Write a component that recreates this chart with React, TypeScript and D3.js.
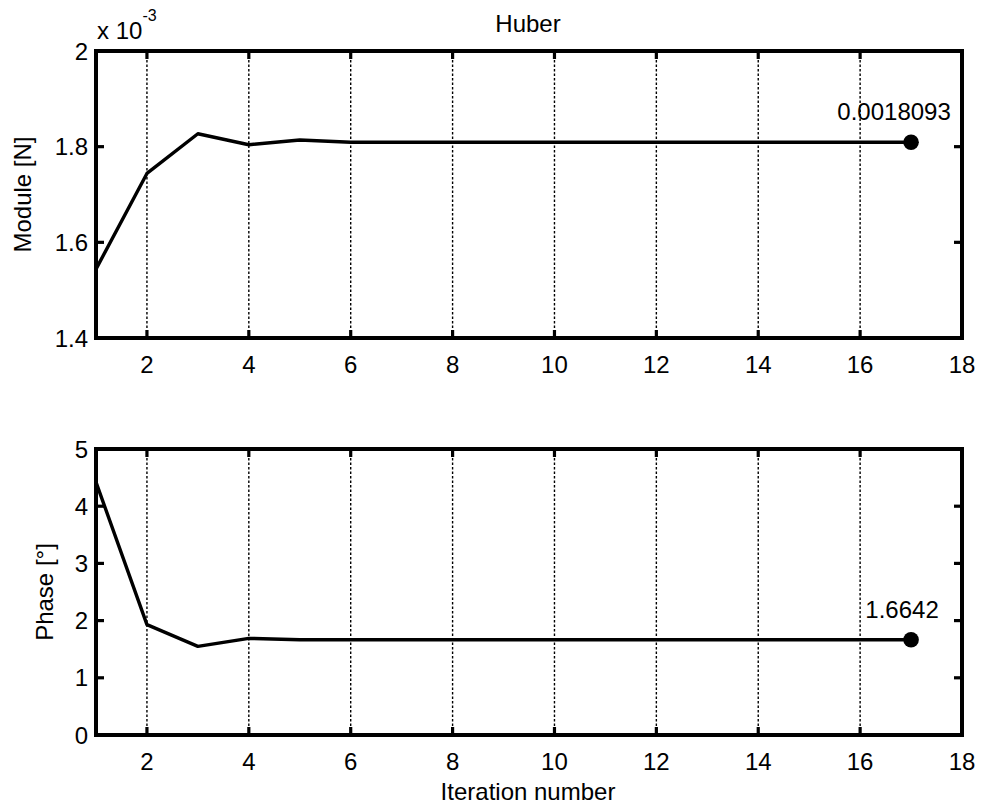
import React from "react";
import * as d3 from "d3";

const iterations = [1, 2, 3, 4, 5, 6, 7, 8, 9, 10, 11, 12, 13, 14, 15, 16, 17];
const moduleValues = [
  0.001544, 0.001744, 0.001827, 0.001804, 0.001814, 0.0018093, 0.0018093, 0.0018093,
  0.0018093, 0.0018093, 0.0018093, 0.0018093, 0.0018093, 0.0018093, 0.0018093, 0.0018093, 0.0018093,
];
const phaseValues = [
  4.42, 1.93, 1.55, 1.69, 1.665, 1.6642, 1.6642, 1.6642, 1.6642, 1.6642, 1.6642, 1.6642,
  1.6642, 1.6642, 1.6642, 1.6642, 1.6642,
];
const xTicks = [2, 4, 6, 8, 10, 12, 14, 16, 18];
const moduleTicks = [0.0014, 0.0016, 0.0018, 0.002];
const moduleTickLabels = ["1.4", "1.6", "1.8", "2"];
const phaseTicks = [0, 1, 2, 3, 4, 5];
const phaseTickLabels = ["0", "1", "2", "3", "4", "5"];
const moduleLastLabel = "0.0018093";
const phaseLastLabel = "1.6642";

const W = 983;
const H = 807;
const LEFT = 96;
const RIGHT = 962;
const FONT = "'Liberation Sans', Arial, Helvetica, sans-serif";
const FS = 24;
const TICK = 8;

type PanelProps = {
  top: number;
  bottom: number;
  yDomain: [number, number];
  values: number[];
  yTicks: number[];
  yTickLabels: string[];
  ylabel: string;
  ylabelX: number;
  endLabel: string;
  endLabelDx: number;
};

function Panel(p: PanelProps) {
  const x = d3.scaleLinear().domain([1, 18]).range([LEFT, RIGHT]);
  const y = d3.scaleLinear().domain(p.yDomain).range([p.bottom, p.top]);
  const line = d3
    .line<number>()
    .x((_, i) => x(iterations[i]))
    .y((d) => y(d));
  const lastI = iterations.length - 1;
  const mx = x(iterations[lastI]);
  const my = y(p.values[lastI]);
  return (
    <g>
      {xTicks
        .filter((t) => t < 18)
        .map((t) => (
          <line
            key={"g" + t}
            x1={x(t)}
            x2={x(t)}
            y1={p.top}
            y2={p.bottom}
            stroke="#000"
            strokeWidth={1.4}
            strokeDasharray="2.5,2"
          />
        ))}
      {xTicks.map((t) => (
        <g key={"xt" + t}>
          <line x1={x(t)} x2={x(t)} y1={p.bottom} y2={p.bottom - TICK} stroke="#000" strokeWidth={3.2} />
          <line x1={x(t)} x2={x(t)} y1={p.top} y2={p.top + TICK} stroke="#000" strokeWidth={3.2} />
          <text
            x={x(t)}
            y={p.bottom + 35}
            textAnchor="middle"
            fontFamily={FONT}
            fontSize={FS}
            fill="#000"
          >
            {t}
          </text>
        </g>
      ))}
      {p.yTicks.map((t, i) => (
        <g key={"yt" + t}>
          <line x1={LEFT} x2={LEFT + TICK} y1={y(t)} y2={y(t)} stroke="#000" strokeWidth={3.2} />
          <line x1={RIGHT} x2={RIGHT - TICK} y1={y(t)} y2={y(t)} stroke="#000" strokeWidth={3.2} />
          <text
            x={LEFT - 8}
            y={y(t)}
            dy="0.36em"
            textAnchor="end"
            fontFamily={FONT}
            fontSize={FS}
            fill="#000"
          >
            {p.yTickLabels[i]}
          </text>
        </g>
      ))}
      <path d={line(p.values) || ""} fill="none" stroke="#000" strokeWidth={3.4} strokeLinejoin="round" />
      <circle cx={mx} cy={my} r={7.8} fill="#000" />
      <text
        x={mx + p.endLabelDx}
        y={my - 22}
        textAnchor="middle"
        fontFamily={FONT}
        fontSize={FS}
        fill="#000"
      >
        {p.endLabel}
      </text>
      <rect
        x={LEFT}
        y={p.top}
        width={RIGHT - LEFT}
        height={p.bottom - p.top}
        fill="none"
        stroke="#000"
        strokeWidth={4}
      />
      <text
        transform={`translate(${p.ylabelX},${(p.top + p.bottom) / 2}) rotate(-90)`}
        textAnchor="middle"
        dy="0.36em"
        fontFamily={FONT}
        fontSize={FS}
        fill="#000"
      >
        {p.ylabel}
      </text>
    </g>
  );
}

export default function App() {
  return (
    <svg
      width={W}
      height={H}
      viewBox={`0 0 ${W} ${H}`}
      style={{ position: "absolute", left: 0, top: 0, background: "#fff" }}
    >
      <rect x={0} y={0} width={W} height={H} fill="#fff" />
      <text x={528} y={32} textAnchor="middle" fontFamily={FONT} fontSize={FS} fill="#000">
        Huber
      </text>
      <text x={97} y={39} fontFamily={FONT} fontSize={FS} fill="#000">
        x 10
        <tspan fontSize={16} dy={-18}>
          -3
        </tspan>
      </text>
      <Panel
        top={51}
        bottom={338}
        yDomain={[0.0014, 0.002]}
        values={moduleValues}
        yTicks={moduleTicks}
        yTickLabels={moduleTickLabels}
        ylabel="Module [N]"
        ylabelX={22}
        endLabel={moduleLastLabel}
        endLabelDx={-17}
      />
      <Panel
        top={449}
        bottom={735}
        yDomain={[0, 5]}
        values={phaseValues}
        yTicks={phaseTicks}
        yTickLabels={phaseTickLabels}
        ylabel="Phase [°]"
        ylabelX={44}
        endLabel={phaseLastLabel}
        endLabelDx={-9}
      />
      <text x={528} y={800} textAnchor="middle" fontFamily={FONT} fontSize={FS} fill="#000">
        Iteration number
      </text>
    </svg>
  );
}
